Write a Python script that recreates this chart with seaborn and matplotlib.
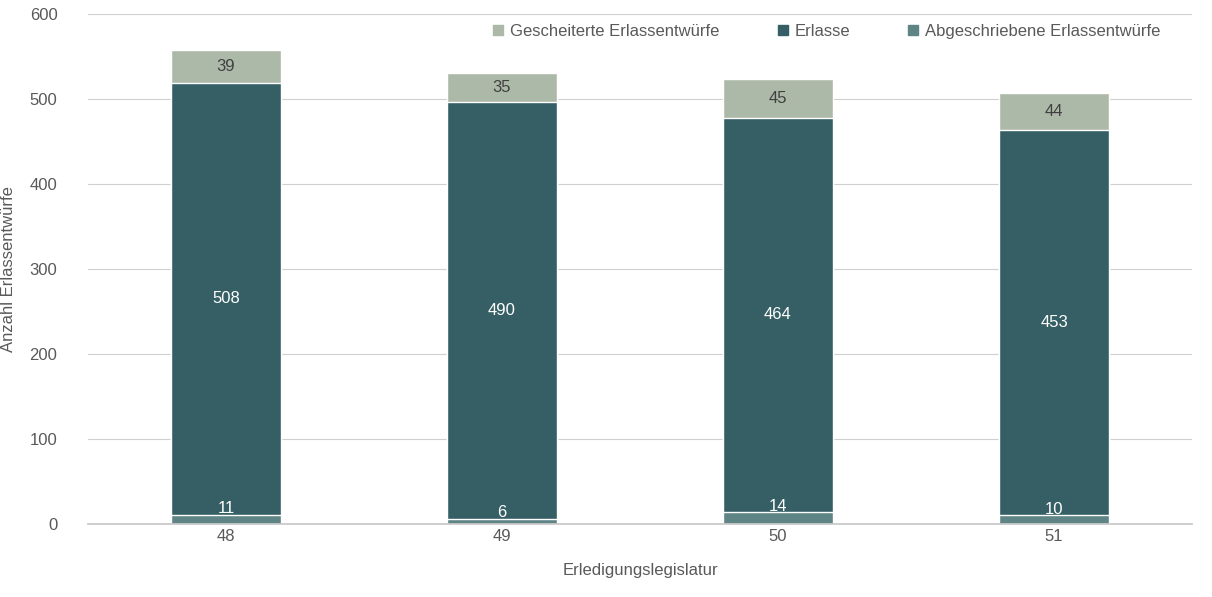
import matplotlib
matplotlib.use("Agg")
import matplotlib.pyplot as plt
import seaborn as sns
import pandas as pd
import numpy as np
from matplotlib.patches import Patch

categories = ["48", "49", "50", "51"]
abgeschrieben = [11, 6, 14, 10]
erlasse = [508, 490, 464, 453]
gescheitert = [39, 35, 45, 44]

sns.set_theme(style="white")
plt.rcParams['font.family'] = ['Liberation Sans', 'DejaVu Sans']

c_g, c_e, c_a = "#adb9a8", "#355f64", "#5f8486"
df = pd.DataFrame({"cat": categories,
                   "a": abgeschrieben,
                   "ae": np.add(abgeschrieben, erlasse),
                   "tot": np.add(np.add(abgeschrieben, erlasse), gescheitert)})

fig = plt.figure(figsize=(12.12, 5.97), dpi=100)
ax = fig.add_axes([0.0726, 0.1223, 0.9109, 0.8542])
sns.barplot(data=df, x="cat", y="tot", color=c_g, width=0.4, saturation=1, ax=ax)
sns.barplot(data=df, x="cat", y="ae", color=c_e, width=0.4, saturation=1, ax=ax)
sns.barplot(data=df, x="cat", y="a", color=c_a, width=0.4, saturation=1, ax=ax)

for i in range(len(categories)):
    a, e, g = abgeschrieben[i], erlasse[i], gescheitert[i]
    ax.text(i, a + 7, str(a), ha="center", va="center", color="white", fontsize=12)
    ax.text(i, a + e / 2, str(e), ha="center", va="center", color="white", fontsize=12)
    ax.text(i, a + e + g / 2, str(g), ha="center", va="center", color="#404040", fontsize=12)

ax.set_ylim(0, 600)
ax.set_yticks(range(0, 601, 100))
ax.yaxis.grid(True, color="#d0d0d0", linewidth=0.8)
ax.set_axisbelow(True)
for s in ["top", "right", "left"]:
    ax.spines[s].set_visible(False)
ax.spines["bottom"].set_color("#c8c8c8")
ax.tick_params(axis="both", colors="#595959", labelsize=12, length=0)
ax.tick_params(axis="y", pad=22)
ax.set_xlabel("Erledigungslegislatur", color="#595959", fontsize=12, labelpad=14)
ax.set_ylabel("Anzahl Erlassentwürfe", color="#595959", fontsize=12, labelpad=10)

handles = [Patch(color=c_g, label="Gescheiterte Erlassentwürfe"),
           Patch(color=c_e, label="Erlasse"),
           Patch(color=c_a, label="Abgeschriebene Erlassentwürfe")]
leg = ax.legend(handles=handles, loc="upper right", ncol=3, frameon=False,
                bbox_to_anchor=(0.985, 1.01), fontsize=12, handlelength=0.6,
                handleheight=0.6, columnspacing=3.5, handletextpad=0.4)
for t in leg.get_texts():
    t.set_color("#595959")

fig.savefig("out.png", dpi=100)
